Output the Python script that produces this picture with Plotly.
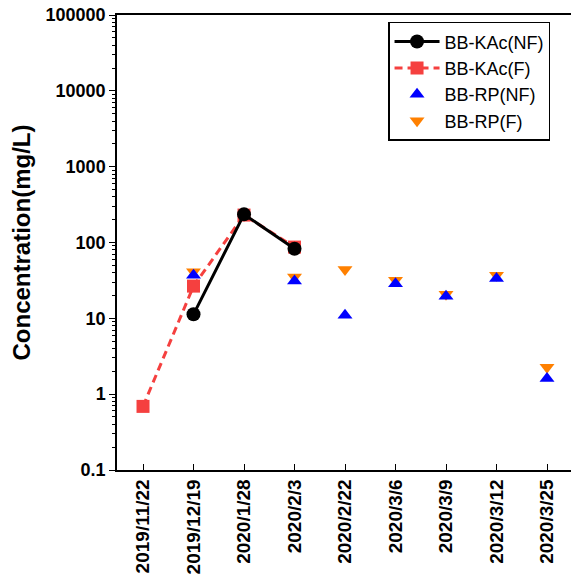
import plotly.graph_objects as go

dates = ["2019/11/22", "2019/12/19", "2020/1/28", "2020/2/3", "2020/2/22",
         "2020/3/6", "2020/3/9", "2020/3/12", "2020/3/25"]

kac_nf_dates = ["2019/12/19", "2020/1/28", "2020/2/3"]
kac_nf = [11.3, 235, 82.6]

kac_f_dates = ["2019/11/22", "2019/12/19", "2020/1/28", "2020/2/3"]
kac_f = [0.69, 26.6, 230, 87]

rp_dates = ["2019/12/19", "2020/2/3", "2020/2/22", "2020/3/6", "2020/3/9", "2020/3/12", "2020/3/25"]
rp_nf = [37, 31, 11.0, 28.5, 19.6, 33.6, 1.61]
rp_f = [41, 35, 44, 31.9, 20.7, 37, 2.27]

ytickvals = [0.1, 1, 10, 100, 1000, 10000, 100000]
yticktext = ["0.1", "1", "10", "100", "1000", "10000", "100000"]

fig = go.Figure()
fig.add_trace(go.Scatter(
    x=kac_f_dates, y=kac_f, name="BB-KAc(F)", mode="lines+markers",
    line=dict(color="#f5403f", width=3, dash="8px,5px"),
    marker=dict(symbol="square", size=13, color="#f5403f"),
    legendrank=2))
fig.add_trace(go.Scatter(
    x=kac_nf_dates, y=kac_nf, name="BB-KAc(NF)", mode="lines+markers",
    line=dict(color="black", width=3),
    marker=dict(symbol="circle", size=14, color="black"),
    legendrank=1))
fig.add_trace(go.Scatter(
    x=rp_dates, y=rp_f, name="BB-RP(F)", mode="markers",
    marker=dict(symbol="triangle-down", size=13, color="#ff8000"),
    legendrank=4))
fig.add_trace(go.Scatter(
    x=rp_dates, y=rp_nf, name="BB-RP(NF)", mode="markers",
    marker=dict(symbol="triangle-up", size=13, color="#0000ff"),
    legendrank=3))

font_main = "Arial, Liberation Sans, sans-serif"

fig.update_layout(
    width=571, height=577,
    margin=dict(l=117, r=0, t=15, b=107),
    plot_bgcolor="white", paper_bgcolor="white",
    font=dict(family=font_main, color="black"),
    showlegend=True,
    legend=dict(
        x=0.597, y=0.985, xanchor="left", yanchor="top",
        bordercolor="black", borderwidth=1.5, bgcolor="white",
        font=dict(size=18, family=font_main, color="black"),
        tracegroupgap=0, itemwidth=45,
    ),
    xaxis=dict(
        type="category", categoryorder="array", categoryarray=dates,
        range=[-0.515, 8.475],
        showline=True, linecolor="black", linewidth=1.5, mirror=True,
        ticks="inside", ticklen=6, tickcolor="black",
        tickangle=-90, showgrid=False, zeroline=False,
        tickfont=dict(size=19, family=font_main, color="black", weight="bold"),
    ),
    yaxis=dict(
        type="log", range=[-1, 5],
        showline=True, linecolor="black", linewidth=1.5,
        ticks="outside", ticklen=6, tickcolor="black",
        tickvals=ytickvals, ticktext=yticktext,
        showgrid=False, zeroline=False,
        minor=dict(ticks="outside", ticklen=3, tickcolor="black", showgrid=False,
                   tickvals=[m * 10 ** e for e in range(-1, 5) for m in range(2, 10)]),
        tickfont=dict(size=18, family=font_main, color="black", weight="bold"),
        title=dict(text="Concentration(mg/L)", standoff=8,
                   font=dict(size=24, family=font_main, color="black", weight="bold")),
    ),
)

fig.write_html("out.html")
